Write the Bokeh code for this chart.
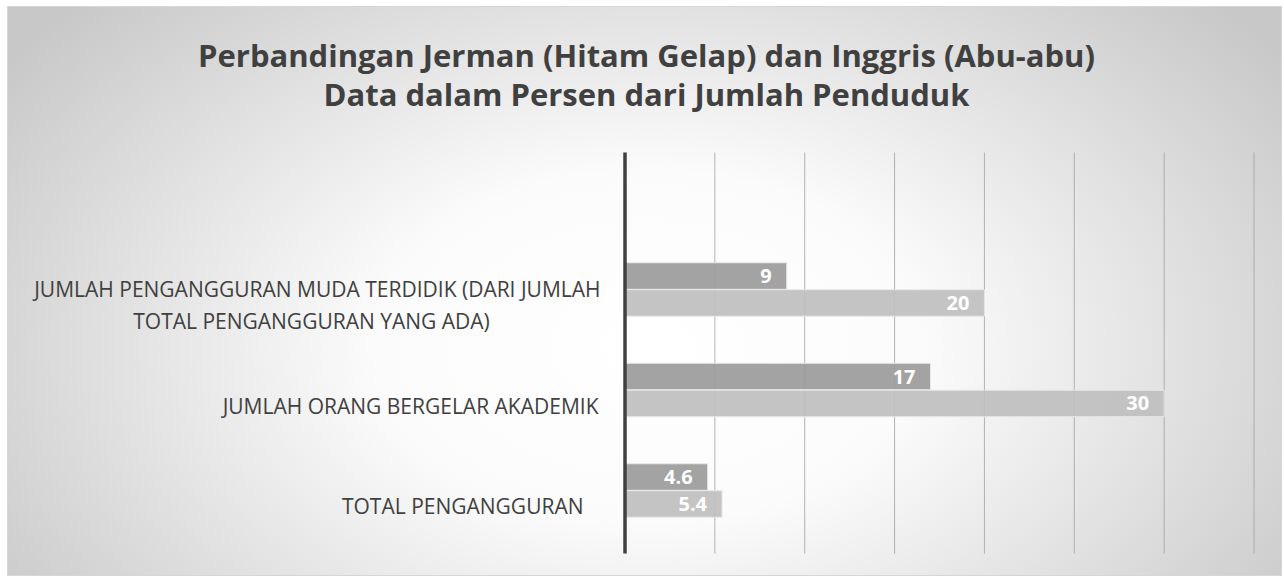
from bokeh.plotting import figure
from bokeh.models import Range1d, Label, ColumnDataSource
from bokeh.embed import file_html
from bokeh.resources import INLINE
from bokeh.core.properties import value

# ---------------- data ----------------
title_lines = [
    "Perbandingan Jerman (Hitam Gelap) dan Inggris (Abu-abu)",
    "Data dalam Persen dari Jumlah Penduduk",
]
categories = [
    "TOTAL PENGANGGURAN",
    "JUMLAH ORANG BERGELAR AKADEMIK",
    "JUMLAH PENGANGGURAN MUDA TERDIDIK (DARI JUMLAH\nTOTAL PENGANGGURAN YANG ADA)",
]
jerman = [4.6, 17, 9]      # dark grey series
inggris = [5.4, 30, 20]    # light grey series
x_ticks = [0, 5, 10, 15, 20, 25, 30, 35]

# ---------------- styles / geometry ----------------
FONT = "Open Sans"
TEXT_COLOR = "#404040"
DARK = "#9b9b9b"
LIGHT = "#bfbfbf"
W, H = 1273, 568
PX_X = 629 / 35.0          # pixels per x unit
X0_PX = 616.5              # figure pixel of x = 0
PX_Y = 100.5               # pixels per category step
Y0_PX = 483.0              # figure pixel (from top) of first category centre
PLOT_TOP_PX, PLOT_BOTTOM_PX = 145, 546
BAR_H = 0.264
BAR_OFF = 0.134
LABEL_OFF = -0.155
CAT_FS = "21px"


def dx(px):
    return (px - X0_PX) / PX_X


def dy(py):
    return (Y0_PX - py) / PX_Y


ypos = list(range(len(categories)))

p = figure(
    width=W, height=H, output_backend="svg", toolbar_location=None,
    x_range=Range1d(dx(0), dx(W)), y_range=Range1d(dy(H), dy(0)),
    x_axis_location=None, y_axis_location=None,
    min_border=0, min_border_left=0, min_border_right=0,
    min_border_top=0, min_border_bottom=0,
    background_fill_alpha=0, border_fill_alpha=0, outline_line_color=None,
    styles={
        "margin-left": "8px",
        "margin-top": "7px",
        "outline": "1px solid #d6d6d6",
        "background": "radial-gradient(ellipse 780px 500px at 640px 340px, #ffffff 0%, #fbfbfb 35%, #c8c8c8 100%)",
    },
)
p.grid.visible = False

# vertical grid lines at the x ticks, spanning the plot area only
grid_src = ColumnDataSource(dict(
    x=[t for t in x_ticks if t > 0],
    y0=[dy(PLOT_BOTTOM_PX)] * (len(x_ticks) - 1),
    y1=[dy(PLOT_TOP_PX)] * (len(x_ticks) - 1),
))
p.segment(x0="x", x1="x", y0="y0", y1="y1", source=grid_src,
          line_color="#a0a0a0", line_alpha=0.8, line_width=1)

src = ColumnDataSource(dict(
    y_j=[y + BAR_OFF for y in ypos],
    y_i=[y - BAR_OFF for y in ypos],
    jerman=jerman,
    inggris=inggris,
    lab_j=[f"{v:g}" for v in jerman],
    lab_i=[f"{v:g}" for v in inggris],
))

p.hbar(y="y_j", left=0, right="jerman", height=BAR_H, source=src,
       fill_color=DARK, fill_alpha=0.92, line_color="#e8e8e8", line_width=1)
p.hbar(y="y_i", left=0, right="inggris", height=BAR_H, source=src,
       fill_color=LIGHT, fill_alpha=0.92, line_color="#e8e8e8", line_width=1)

# category axis line at x = 0
p.segment(x0=[x_ticks[0]], x1=[x_ticks[0]], y0=[dy(PLOT_BOTTOM_PX)], y1=[dy(PLOT_TOP_PX)],
          line_color="#404040", line_width=3.5)

for ycol, tcol, xcol in (("y_j", "lab_j", "jerman"), ("y_i", "lab_i", "inggris")):
    p.text(x=xcol, y=ycol, text=tcol, source=src, x_offset=-15,
           text_align="right", text_baseline="middle", text_color="white",
           text_font=value(FONT), text_font_style="bold", text_font_size="20px")

# category labels (right aligned block, lines centred inside the block)
label_right = [575, 590, 592]   # figure pixels
for y, cat, xr in zip(ypos, categories, label_right):
    lines = cat.split("\n")
    if len(lines) == 1:
        p.add_layout(Label(x=dx(xr), y=y + LABEL_OFF, text=lines[0],
                           text_align="right", text_baseline="middle",
                           text_color=TEXT_COLOR, text_font=FONT, text_font_size=CAT_FS))
    else:
        p.add_layout(Label(x=dx(xr), y=y + LABEL_OFF + 0.16, text=lines[0],
                           text_align="right", text_baseline="middle",
                           text_color=TEXT_COLOR, text_font=FONT, text_font_size=CAT_FS))
        p.add_layout(Label(x=dx(303), y=y + LABEL_OFF - 0.16, text=lines[1],
                           text_align="center", text_baseline="middle",
                           text_color=TEXT_COLOR, text_font=FONT, text_font_size=CAT_FS))

# title lines
for txt, ym in zip(title_lines, (47, 86)):
    p.add_layout(Label(x=dx(638), y=dy(ym), text=txt,
                       text_align="center", text_baseline="middle",
                       text_color=TEXT_COLOR, text_font=FONT, text_font_style="bold",
                       text_font_size="31px"))

open("out.html", "w").write(file_html(p, INLINE))
